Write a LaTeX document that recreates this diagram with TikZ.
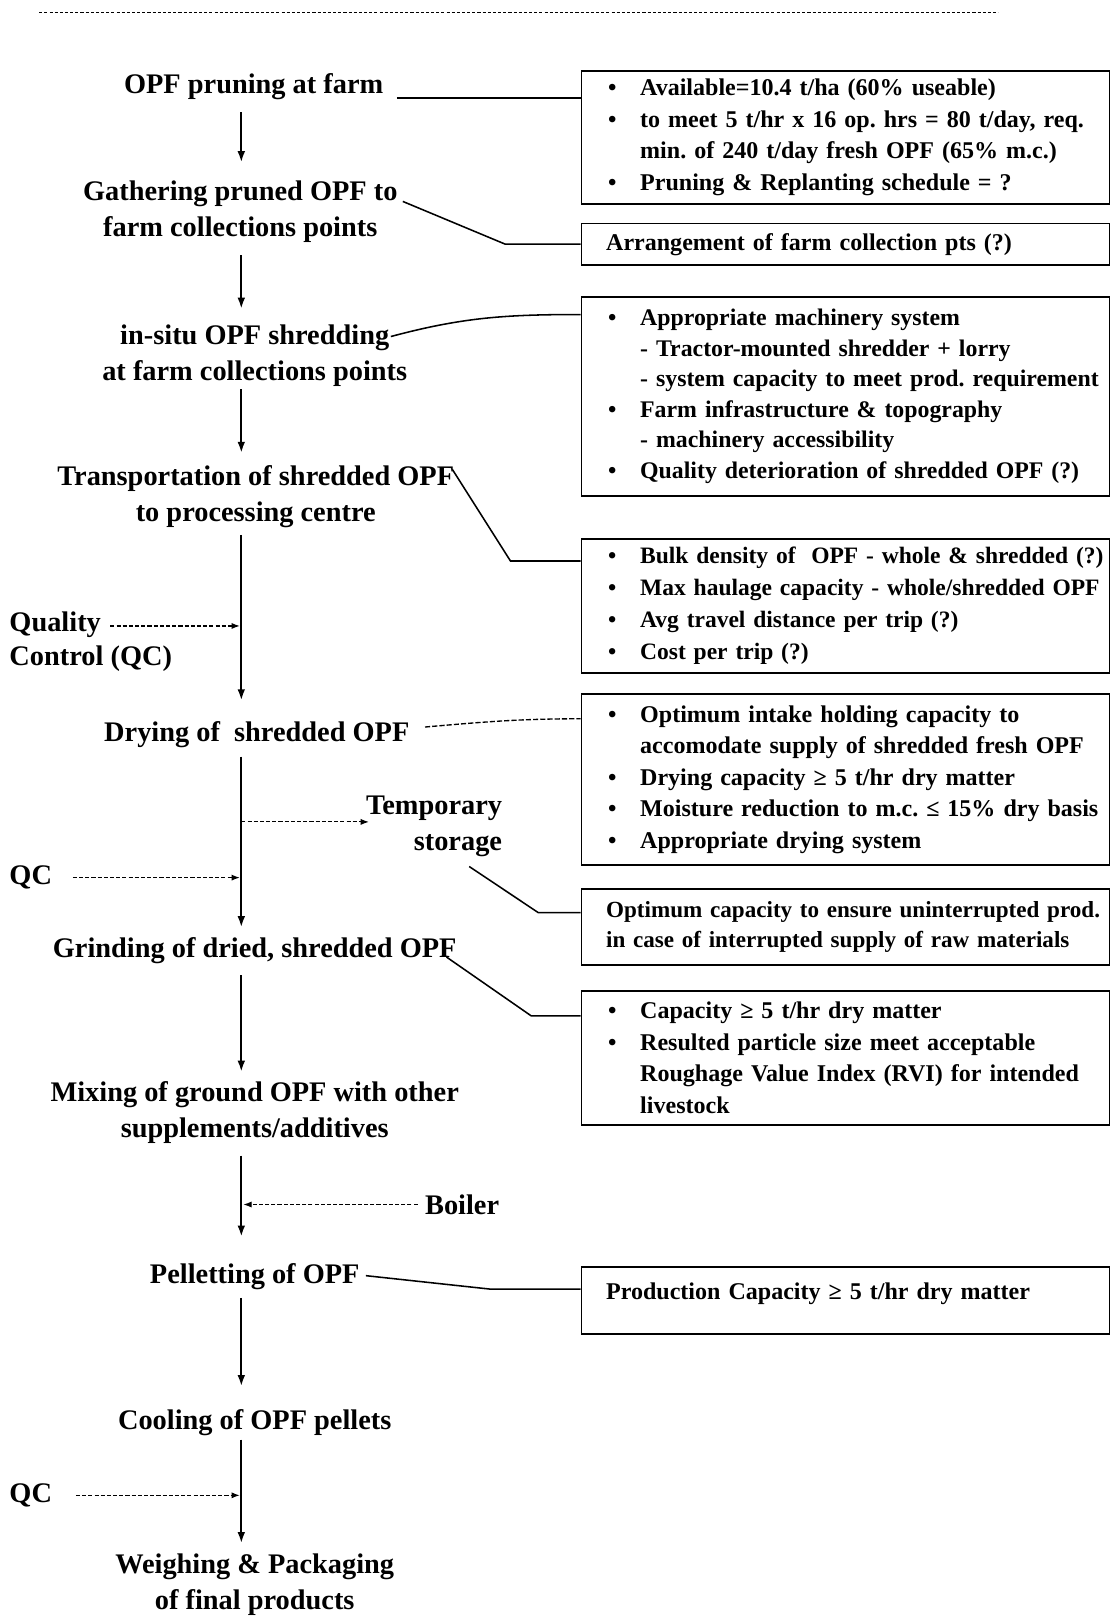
\documentclass[tikz,border=0pt]{standalone}
\usepackage{fontspec}
\setmainfont{Liberation Serif}
\usetikzlibrary{arrows.meta,calc}
\frenchspacing
\newcommand\bulitem[1]{\hspace*{26pt}\makebox[31pt][l]{\textbullet}\mbox{#1}}
\newcommand\contind[1]{\hspace*{57pt}\mbox{#1}}
\newcommand\plainind[1]{\hspace*{24pt}\mbox{#1}}
\tikzset{
  flowtxt/.style={font=\fontsize{27.5}{35}\selectfont\bfseries, align=center, inner sep=0pt},
  sidetxt/.style={font=\fontsize{27.5}{33}\selectfont\bfseries, inner sep=0pt},
  infobox/.style={draw, line width=1.6pt, anchor=north west, minimum width=512pt,
     text width=512pt, inner xsep=0pt, inner ysep=0pt, align=left,
     font=\fontsize{23.3}{30.5}\selectfont\bfseries\frenchspacing},
  flow/.style={-{Latex[length=11pt,width=7.5pt]}, line width=2.2pt},
  dflow/.style={-{Latex[length=8pt,width=6pt]}, line width=1.1pt, dash pattern=on 4pt off 2pt},
  link/.style={line width=1.5pt},
  dlink/.style={line width=1.3pt, dash pattern=on 5pt off 2pt},
  topline/.style={line width=1.6pt, dash pattern=on 3pt off 2pt}
}
\begin{document}
\begin{tikzpicture}[x=1pt,y=-1pt]
\useasboundingbox (0,0) rectangle (1079,1568);
\coordinate (tl) at (38,12);
\coordinate (tr) at (968,12);
\draw[topline] (tl) -- (tr);
\coordinate (sp) at (234,0);

% flow texts
\node[flowtxt] (p1) at (246,84) {OPF pruning at farm};
\node[flowtxt] (p2) at (233,205.5) {Gathering pruned OPF to\\farm collections points};
\node[flowtxt] (p3) at (247,344.5) {in-situ OPF shredding\\at farm collections points};
\node[flowtxt] (p4) at (248,481.5) {Transportation of shredded OPF\\to processing centre};
\node[flowtxt] (p5) at (249,712) {Drying of\ \ shredded OPF};
\node[flowtxt] (p6) at (247,922) {Grinding of dried, shredded OPF};
\node[flowtxt] (p7) at (247,1079) {Mixing of ground OPF with other\\supplements/additives};
\node[flowtxt] (p8) at (247,1238) {Pelletting of OPF};
\node[flowtxt] (p9) at (247,1380) {Cooling of OPF pellets};
\node[flowtxt] (p10) at (247,1536.5) {Weighing \& Packaging\\of final products};

\node[sidetxt, align=left, anchor=west] (qc1) at (9,622.5) {Quality\\Control (QC)};
\node[sidetxt, anchor=west] (qc2) at (9,851) {QC};
\node[sidetxt, anchor=west] (qc3) at (9,1450) {QC};
\node[flowtxt, align=right, anchor=east] (ts) at (487,801.5) {Temporary\\storage};
\node[sidetxt, anchor=west] (boil) at (412,1168) {Boiler};

% main arrows
\draw[flow, shorten <=12pt, shorten >=17.7pt] (p1.south -| sp) -- (p2.north -| sp);
\draw[flow, shorten <=11.7pt, shorten >=14.7pt] (p2.south -| sp) -- (p3.north -| sp);
\draw[flow, shorten <=3pt, shorten >=11.7pt] (p3.south -| sp) -- (p4.north -| sp);
\draw[flow, shorten <=6.7pt, shorten >=19.7pt] (p4.south -| sp) -- (p5.north -| sp);
\draw[flow, shorten <=8.7pt, shorten >=9.7pt] (p5.south -| sp) -- (p6.north -| sp);
\draw[flow, shorten <=10.7pt, shorten >=9.2pt] (p6.south -| sp) -- (p7.north -| sp);
\draw[flow, shorten <=11.2pt, shorten >=25.7pt] (p7.south -| sp) -- (p8.north -| sp);
\draw[flow, shorten <=7.7pt, shorten >=22.7pt] (p8.south -| sp) -- (p9.north -| sp);
\draw[flow, shorten <=3pt, shorten >=9.7pt] (p9.south -| sp) -- (p10.north -| sp);

% side dashed arrows
\coordinate (qs1) at (107,607);
\draw[dflow, shorten >=1.5pt] (qs1) -- (qs1 -| sp);
\draw[dflow, shorten >=1.5pt] ([xshift=20pt]qc2.east) -- (qc2.east -| sp);
\draw[dflow, shorten >=1.5pt] ([xshift=23pt]qc3.east) -- (qc3.east -| sp);
\coordinate (tsj) at (234,797);
\draw[dflow, shorten >=-3pt] (tsj) -- (tsj -| ts.west);
\draw[dflow, shorten >=2pt] ([xshift=-7pt]boil.west) -- (boil.west -| sp);

% info boxes
\node[infobox, minimum height=129pt] (b1) at (563,68) {%
\bulitem{Available=10.4 t/ha (60\% useable)}\\
\bulitem{to meet 5 t/hr x 16 op. hrs = 80 t/day, req.}\\
\contind{min. of 240 t/day fresh OPF (65\% m.c.)}\\
\bulitem{Pruning \& Replanting schedule = ?}};

\node[infobox, minimum height=40pt] (b2) at (563,216) {%
\plainind{Arrangement of farm collection pts (?)}};

\node[infobox, minimum height=193pt, font=\fontsize{23.1}{29.5}\selectfont\bfseries] (b3) at (563,287) {%
\bulitem{Appropriate machinery system}\\
\contind{- Tractor-mounted shredder + lorry}\\
\contind{- system capacity to meet prod. requirement}\\
\bulitem{Farm infrastructure \& topography}\\
\contind{- machinery accessibility}\\
\bulitem{Quality deterioration of shredded OPF (?)}};

\node[infobox, minimum height=130pt, font=\fontsize{22.8}{31}\selectfont\bfseries] (b4) at (563,522) {%
\bulitem{Bulk density of\ \ OPF - whole \& shredded (?)}\\
\bulitem{Max haulage capacity - whole/shredded OPF}\\
\bulitem{Avg travel distance per trip (?)}\\
\bulitem{Cost per trip (?)}};

\node[infobox, minimum height=166pt] (b5) at (563,672) {%
\bulitem{Optimum intake holding capacity to}\\
\contind{accomodate supply of shredded fresh OPF}\\
\bulitem{Drying capacity ≥ 5 t/hr dry matter}\\
\bulitem{Moisture reduction to m.c. ≤ 15\% dry basis}\\
\bulitem{Appropriate drying system}};

\node[infobox, minimum height=74pt, font=\fontsize{22.4}{29}\selectfont\bfseries] (b6) at (563,861) {%
\plainind{Optimum capacity to ensure uninterrupted prod.}\\
\plainind{in case of interrupted supply of raw materials}};

\node[infobox, minimum height=130pt] (b7) at (563,960) {%
\bulitem{Capacity ≥ 5 t/hr dry matter}\\
\bulitem{Resulted particle size meet acceptable}\\
\contind{Roughage Value Index (RVI) for intended}\\
\contind{livestock}};

\node[infobox, minimum height=65pt] (b8) at (563,1228) {%
\plainind{Production Capacity ≥ 5 t/hr dry matter}\\[-12pt]\mbox{}};

% links to boxes
\coordinate (b1l) at ([yshift=-27pt]b1.north west);
\draw[link] ([xshift=13pt]p1.east |- b1l) -- (b1l);
\draw[link] ([shift={(5,20)}]p2.north east) -- ([xshift=-73pt]b2.west) -- (b2.west);
\draw[link] ([shift={(-16,12)}]p3.north east) to[out=15,in=180] ([yshift=-18pt]b3.north west);
\draw[link] ([shift={(-2,4)}]p4.north east) -- ([shift={(-68,22)}]b4.north west) -- ([yshift=-22pt]b4.north west);
\draw[dlink] ([shift={(15,-7)}]p5.east) to[out=5,in=180] ([yshift=-25pt]b5.north west);
\draw[link] ([shift={(-32,9)}]ts.south east) -- ([shift={(-41,24)}]b6.north west) -- ([yshift=-24pt]b6.north west);
\draw[link] ([shift={(-10,6)}]p6.east) -- ([shift={(-48,25)}]b7.north west) -- ([yshift=-25pt]b7.north west);
\draw[link] ([shift={(6,-1)}]p8.east) -- ([shift={(-88,22)}]b8.north west) -- ([yshift=-22pt]b8.north west);
\end{tikzpicture}
\end{document}
